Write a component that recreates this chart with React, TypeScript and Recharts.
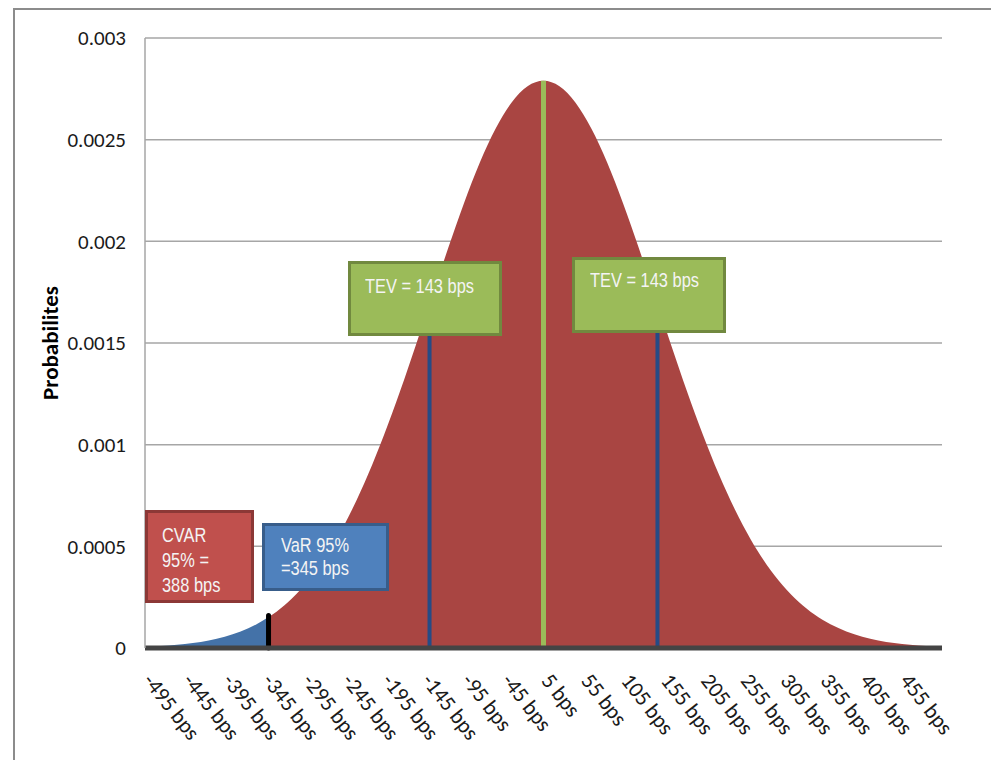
import React from "react";
import { ComposedChart, Area, XAxis, YAxis, CartesianGrid, ReferenceLine } from "recharts";

// points of the P&L distribution (bps) and their probabilities
const bpsPoints = [
  -500, -480, -460, -440, -420, -400, -380, -360, -345, -340, -320, -300, -280, -260, -240, -220,
  -200, -180, -160, -140, -120, -100, -80, -60, -40, -20, 0, 20, 40, 60, 80, 100, 120, 140, 160,
  180, 200, 220, 240, 260, 280, 300, 320, 340, 360, 380, 400, 420, 440, 460, 480, 500,
];
const probabilities = [
  0.0000062, 0.00001, 0.0000158, 0.0000245, 0.0000374, 0.0000558, 0.0000817, 0.000117, 0.000152,
  0.000165, 0.000228, 0.000309, 0.00041, 0.000534, 0.000682, 0.000854, 0.001049, 0.001263, 0.001492,
  0.001728, 0.001962, 0.002185, 0.002386, 0.002555, 0.002683, 0.002763, 0.00279, 0.002763, 0.002683,
  0.002555, 0.002386, 0.002185, 0.001962, 0.001728, 0.001492, 0.001263, 0.001049, 0.000854, 0.000682,
  0.000534, 0.00041, 0.000309, 0.000228, 0.000165, 0.000117, 0.0000817, 0.0000558, 0.0000374,
  0.0000245, 0.0000158, 0.00001, 0.0000062,
];

const varLevel = -345;
const varHeight = 0.00016;
const tevLevel = 143;
const tevHeight = 0.00169;
const meanLevel = 0;
const peakHeight = 0.00279;

const xTicks = [-495, -445, -395, -345, -295, -245, -195, -145, -95, -45, 5, 55, 105, 155, 205, 255, 305, 355, 405, 455];
const yTicks = [0, 0.0005, 0.001, 0.0015, 0.002, 0.0025, 0.003];

const data = bpsPoints.map((b, i) => ({
  bps: b,
  tail: b <= varLevel ? probabilities[i] : null,
  body: b >= varLevel ? probabilities[i] : null,
}));

const axisFont = "Carlito, Lato, sans-serif";
const boxFont = "'Liberation Sans', Arial, sans-serif";

class Guard extends React.Component<any, any> {
  state = { err: null as any };
  static getDerivedStateFromError(err: any) {
    return { err };
  }
  render() {
    if (this.state.err) return <pre style={{ fontSize: 12 }}>{String(this.state.err && this.state.err.stack)}</pre>;
    return this.props.children;
  }
}

const BpsTick = (props: any) => {
  const { x, y, payload } = props;
  const tx = x - 7;
  const ty = y + 33;
  return (
    <text x={tx} y={ty} transform={`rotate(52 ${tx} ${ty})`} fontSize={22} fontFamily={axisFont} fill="#1a1a1a">
      {payload.value} bps
    </text>
  );
};

const boxBase: React.CSSProperties = {
  position: "absolute",
  boxSizing: "border-box",
  borderStyle: "solid",
  borderWidth: 3,
  color: "#f4f4f4",
  fontFamily: boxFont,
  fontSize: 20.5,
  lineHeight: "24px",
  whiteSpace: "nowrap",
};

const narrow: React.CSSProperties = {
  display: "inline-block",
  transform: "scaleX(0.8)",
  transformOrigin: "0 0",
};

const Chart = () => (
  <ComposedChart width={999} height={768} data={data} margin={{ top: 38, right: 57, bottom: 0, left: 0 }}>
    <CartesianGrid vertical={false} stroke="#a6a6a6" strokeWidth={1.5} />
    <XAxis
      dataKey="bps"
      type="number"
      domain={[-500, 500]}
      ticks={xTicks}
      interval={0}
      height={120}
      tickSize={0}
      tickMargin={0}
      tickLine={false}
      tick={BpsTick}
      axisLine={{ stroke: "#444", strokeWidth: 5 }}
    />
    <YAxis
      type="number"
      domain={[0, 0.003]}
      ticks={yTicks}
      width={145}
      tickSize={0}
      tickMargin={19}
      tickLine={false}
      axisLine={{ stroke: "#a6a6a6", strokeWidth: 1.5 }}
      tick={{ fontSize: 21, fontFamily: axisFont, fill: "#1a1a1a" }}
    />
    <Area type="monotone" dataKey="tail" stroke="none" fill="#4472a8" fillOpacity={1} isAnimationActive={false} activeDot={false} />
    <Area type="monotone" dataKey="body" stroke="none" fill="#a94542" fillOpacity={1} isAnimationActive={false} activeDot={false} />
    <ReferenceLine segment={[{ x: -tevLevel, y: 0 }, { x: -tevLevel, y: tevHeight }]} stroke="#254b86" strokeWidth={4} />
    <ReferenceLine segment={[{ x: tevLevel, y: 0 }, { x: tevLevel, y: tevHeight }]} stroke="#254b86" strokeWidth={4} />
    <ReferenceLine segment={[{ x: meanLevel, y: 0 }, { x: meanLevel, y: peakHeight }]} stroke="#9bbb59" strokeWidth={5} />
    <ReferenceLine
      segment={[{ x: varLevel, y: 0 }, { x: varLevel, y: varHeight }]}
      stroke="#000"
      strokeWidth={5}
      strokeLinecap="round"
    />
    <ReferenceLine y={0} stroke="#000" strokeWidth={3} />
  </ComposedChart>
);

const App = () => {
  return (
    <div style={{ position: "relative", width: 983, height: 752 }}>
      <div
        style={{
          position: "absolute",
          left: 5,
          top: 0,
          width: 978,
          height: 752,
          borderTop: "2px solid #8c8c8c",
          borderLeft: "2px solid #8c8c8c",
          boxSizing: "border-box",
        }}
      />
      <div style={{ position: "absolute", left: -8, top: -8 }}>
        <Guard>
          <Chart />
        </Guard>
      </div>
      <svg style={{ position: "absolute", left: 27, top: 225 }} width={40} height={230}>
        <text
          x={15}
          y={110}
          transform="rotate(-90 15 110)"
          textAnchor="middle"
          dominantBaseline="central"
          fontSize={23}
          fontWeight="bold"
          fontFamily={axisFont}
          fill="#000"
        >
          Probabilites
        </text>
      </svg>

      <div style={{ ...boxBase, left: 340, top: 253, width: 154, height: 75, background: "#9bbb59", borderColor: "#71893f", padding: "10px 0 0 14px" }}>
        <span style={narrow}>TEV = 143 bps</span>
      </div>
      <div style={{ ...boxBase, left: 564, top: 249, width: 154, height: 76, background: "#9bbb59", borderColor: "#71893f", padding: "8px 0 0 15px" }}>
        <span style={narrow}>TEV = 143 bps</span>
      </div>
      <div style={{ ...boxBase, left: 137, top: 502, width: 109, height: 93, background: "#c0504d", borderColor: "#8c3836", padding: "9px 0 0 14px", lineHeight: "25px" }}>
        <span style={narrow}>
          CVAR
          <br />
          95% =
          <br />
          388 bps
        </span>
      </div>
      <div style={{ ...boxBase, left: 254, top: 515, width: 127, height: 68, background: "#4f81bd", borderColor: "#385d8a", padding: "7px 0 0 16px", lineHeight: "23px" }}>
        <span style={narrow}>
          VaR 95%
          <br />
          =345 bps
        </span>
      </div>
    </div>
  );
};

export default App;
